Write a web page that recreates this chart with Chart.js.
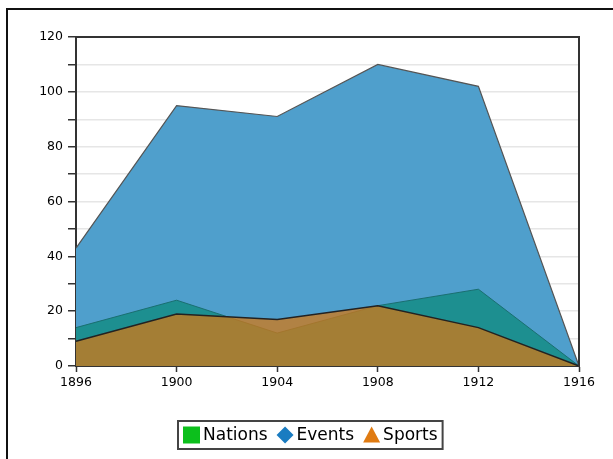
<!DOCTYPE html>
<html>
<head>
<meta charset="utf-8">
<title>Olympics 1896-1916</title>
<script src="https://cdn.jsdelivr.net/npm/chart.js@4/dist/chart.umd.min.js"></script>
<style>
    html, body { margin: 0; padding: 0; background: #fff; overflow: hidden; }
    #frame {
        position: absolute; left: 6px; top: 8px; width: 800px; height: 800px;
        border-left: 2px solid #111; border-top: 2px solid #111;
        box-shadow: -1px -1px 0 #ccc inset;
    }
    #chart { position: absolute; left: 0; top: 0; }
</style>
</head>
<body>
<div id="frame"></div>
<canvas id="chart" width="613" height="459"></canvas>
<script>
// Games years and counts
const years = ["1896", "1900", "1904", "1908", "1912", "1916"];
const nations = [14, 24, 12, 22, 28, 0];
const events = [43, 95, 91, 110, 102, 0];
const sports = [9, 19, 17, 22, 14, 0];

const seriesNames = ["Nations", "Events", "Sports"];
const legendColors = ["#0cbf1c", "#1a7cc1", "#e07b12"];
const legendShapes = ["square", "diamond", "triangle"];

// frame round the plot area (top and right edges)
const plotFrame = {
    id: "plotFrame",
    afterDatasetsDraw(chart) {
        let a = chart.chartArea;
        let ctx = chart.ctx;
        ctx.save();
        ctx.strokeStyle = "#333";
        ctx.lineWidth = 2;
        ctx.beginPath();
        ctx.moveTo(a.left, a.top);
        ctx.lineTo(a.right, a.top);
        ctx.lineTo(a.right, a.bottom);
        ctx.stroke();
        ctx.restore();
    }
};

// boxed legend under the chart
const boxLegend = {
    id: "boxLegend",
    afterDraw(chart) {
        let ctx = chart.ctx;
        ctx.save();
        ctx.font = "17px 'DejaVu Sans'";
        let marker = 17, gapText = 3, gapItem = 9, pad = 5;
        let widths = seriesNames.map(n => ctx.measureText(n).width);
        let total = pad * 2;
        widths.forEach((w, i) => { total += marker + gapText + w + (i < widths.length - 1 ? gapItem : 0); });
        let boxH = 28;
        let left = Math.round(310 - total / 2);
        let top = 421;
        ctx.strokeStyle = "#444";
        ctx.lineWidth = 2;
        ctx.strokeRect(left, top, total, boxH);

        let x = left + pad;
        let cy = top + boxH / 2;
        let h = marker / 2;
        seriesNames.forEach((name, i) => {
            ctx.fillStyle = legendColors[i];
            ctx.beginPath();
            if (legendShapes[i] === "square") {
                ctx.rect(x, cy - h, marker, marker);
            } else if (legendShapes[i] === "diamond") {
                ctx.moveTo(x + h, cy - h);
                ctx.lineTo(x + marker, cy);
                ctx.lineTo(x + h, cy + h);
                ctx.lineTo(x, cy);
                ctx.closePath();
            } else {
                ctx.moveTo(x + h, cy - h);
                ctx.lineTo(x + marker, cy + h - 1);
                ctx.lineTo(x, cy + h - 1);
                ctx.closePath();
            }
            ctx.fill();
            x += marker + gapText;
            ctx.fillStyle = "#000";
            ctx.textBaseline = "middle";
            ctx.fillText(name, x, cy + 1);
            x += widths[i] + gapItem;
        });
        ctx.restore();
    }
};

new Chart(document.getElementById("chart"), {
    type: "line",
    data: {
        labels: years,
        datasets: [
            {
                label: seriesNames[0],
                data: nations,
                fill: "origin",
                backgroundColor: "#1d8f90",
                borderColor: "#1a6f70",
                borderWidth: 1,
                pointRadius: 0,
                tension: 0,
                order: 1
            },
            {
                label: seriesNames[1],
                data: events,
                fill: "origin",
                backgroundColor: "#4f9fcc",
                borderColor: "#555",
                borderWidth: 1.2,
                pointRadius: 0,
                tension: 0,
                order: 2
            },
            {
                label: seriesNames[2],
                data: sports,
                fill: "origin",
                backgroundColor: "rgba(209, 120, 23, 0.75)",
                borderColor: "#222",
                borderWidth: 1.5,
                pointRadius: 0,
                tension: 0,
                order: 0
            }
        ]
    },
    options: {
        responsive: false,
        animation: false,
        layout: { padding: { left: 0, right: 34, top: 37, bottom: 63 } },
        plugins: {
            legend: { display: false },
            tooltip: { enabled: false }
        },
        scales: {
            x: {
                offset: false,
                grid: { drawOnChartArea: false, drawTicks: true, tickLength: 6, tickColor: "#333", tickWidth: 1.5 },
                border: { color: "#333", width: 2 },
                ticks: { color: "#000", font: { family: "DejaVu Sans", size: 12.5 }, padding: 3, maxRotation: 0 },
                afterFit(scale) { scale.height = 30; }
            },
            y: {
                min: 0,
                max: 120,
                grid: { color: "#e6e6e6", lineWidth: 1.5, tickLength: 8, tickColor: "#333", tickWidth: 1.5 },
                border: { color: "#333", width: 2 },
                ticks: {
                    stepSize: 10,
                    color: "#000",
                    font: { family: "DejaVu Sans", size: 12.5 },
                    padding: 5,
                    callback: v => (v % 20 === 0 ? v : "")
                },
                afterFit(scale) { scale.width = 76; }
            }
        }
    },
    plugins: [plotFrame, boxLegend]
});
</script>
</body>
</html>
